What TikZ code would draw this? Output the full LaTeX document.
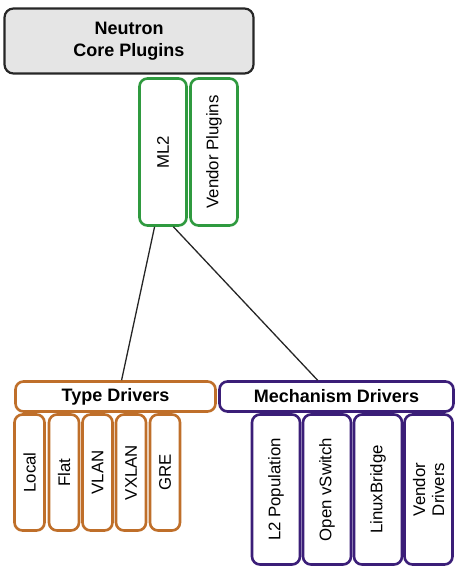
\documentclass[tikz,border=0pt]{standalone}
\usepackage{fontspec}
\setmainfont{Liberation Sans}
\usetikzlibrary{calc}
\definecolor{grn}{HTML}{2F9A3F}
\definecolor{org}{HTML}{BF6F2A}
\definecolor{pur}{HTML}{3B1E78}
\definecolor{gfill}{HTML}{E5E5E5}
\begin{document}
\begin{tikzpicture}[x=1pt,y=-1pt,
  box/.style={draw, line width=2.6pt, rounded corners=8pt, fill=white, inner sep=0pt, minimum width=#1},
  core/.style={draw=black!85, line width=2.2pt, rounded corners=9pt, fill=gfill, inner sep=0pt,
     minimum width=249pt, minimum height=65pt, align=center, font=\fontsize{18}{21.5}\selectfont\bfseries},
  hdr/.style={box=#1, minimum height=30pt, font=\fontsize{18}{21}\selectfont\bfseries},
  vert/.style={box=#1, rotate=90, font=\fontsize{16.8}{19}\selectfont, align=center},
  conn/.style={line width=1.3pt, black!85}]
\useasboundingbox (0,0) rectangle (466,572);
% top
\node[core] (core) at (129,41) {Neutron\\Core Plugins};
\node[vert=147pt, draw=grn, minimum height=47pt] (ml2) at (163,152) {ML2};
\node[vert=147pt, draw=grn, minimum height=47pt] (vp) at (214,152) {Vendor Plugins};
% type drivers
\node[hdr=200pt, draw=org] (type) at (115.5,396.5) {Type Drivers};
\node[vert=116pt, draw=org, minimum height=30pt] (local) at (29.5,472.5) {Local};
\node[vert=116pt, draw=org, minimum height=30pt] (flat) at (64,472.5) {Flat};
\node[vert=116pt, draw=org, minimum height=30pt] (vlan) at (97.5,472.5) {VLAN};
\node[vert=116pt, draw=org, minimum height=30pt] (vxlan) at (131,472.5) {VXLAN};
\node[vert=116pt, draw=org, minimum height=30pt] (gre) at (165,472.5) {GRE};
% mechanism drivers
\node[hdr=234pt, draw=pur] (mech) at (336.5,396.5) {Mechanism Drivers};
\node[vert=150pt, draw=pur, minimum height=48pt] (l2pop) at (276,489.5) {L2 Population};
\node[vert=150pt, draw=pur, minimum height=48pt] (ovs) at (327,489.5) {Open vSwitch};
\node[vert=150pt, draw=pur, minimum height=48pt] (lb) at (378,489.5) {LinuxBridge};
\node[vert=150pt, draw=pur, minimum height=48pt] (vd) at (428.5,489.5) {Vendor\\Drivers};
% connectors
\draw[conn] ($(ml2.north west)!0.33!(ml2.south west)$) -- ($(type.north west)!0.53!(type.north east)$);
\draw[conn] ($(ml2.north west)!0.71!(ml2.south west)$) -- ($(mech.north west)!0.42!(mech.north east)$);
\end{tikzpicture}
\end{document}
